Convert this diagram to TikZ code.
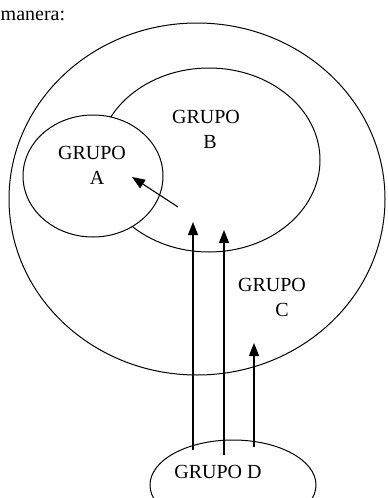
\documentclass[tikz,border=0pt]{standalone}
\usepackage{fontspec}
\setmainfont{Liberation Serif}
\usetikzlibrary{shapes.geometric,arrows.meta}

\begin{document}
\begin{tikzpicture}[x=1pt,y=-1pt,
    grupo/.style={ellipse,draw,line width=1pt,inner sep=0pt},
    etiqueta/.style={font=\fontsize{20}{25}\selectfont,align=center,inner sep=0pt},
    flecha/.style={line width=1.1pt,-{Triangle[length=13pt,width=10pt]}}]

    % Page frame
    \useasboundingbox (0,0) rectangle (388,498);
    \clip (0,0) rectangle (388,498);

    % Text above the diagram
    \node[etiqueta,anchor=west] (intro) at (0.5,16) {manera:};

    % Groups
    \node[grupo,minimum width=376pt,minimum height=352pt] (grupoC) at (197,199) {};
    \node[grupo,minimum width=222pt,minimum height=184pt] (grupoB) at (209,160) {};
    \node[grupo,minimum width=140pt,minimum height=122pt,fill=white] (grupoA) at (93,176) {};
    \node[grupo,minimum width=166pt,minimum height=90pt] (grupoD) at (233,485) {};

    % Group labels
    \node[etiqueta] (textoA) at (92,165.5) {GRUPO\\\hspace*{10pt}A};
    \node[etiqueta] (textoB) at (206,129.5) {GRUPO\\\hspace*{8pt}B};
    \node[etiqueta] (textoC) at (272,297.5) {GRUPO\\\hspace*{20pt}C};
    \node[etiqueta] (textoD) at (218,472) {GRUPO D};

    % Arrow ends
    \coordinate (colaA) at (178,207);
    \coordinate (puntaA) at (132,177);
    \coordinate (cola1) at (193,450);
    \coordinate (punta1) at (193,222);
    \coordinate (cola2) at (224,455);
    \coordinate (punta2) at (224,230);
    \coordinate (cola3) at (254,447);
    \coordinate (punta3) at (254,343);

    % Arrows
    \draw[flecha] (colaA) -- (puntaA);
    \foreach \n in {1,2,3}
    \draw[flecha] (cola\n) -- (punta\n);

\end{tikzpicture}
\end{document}
